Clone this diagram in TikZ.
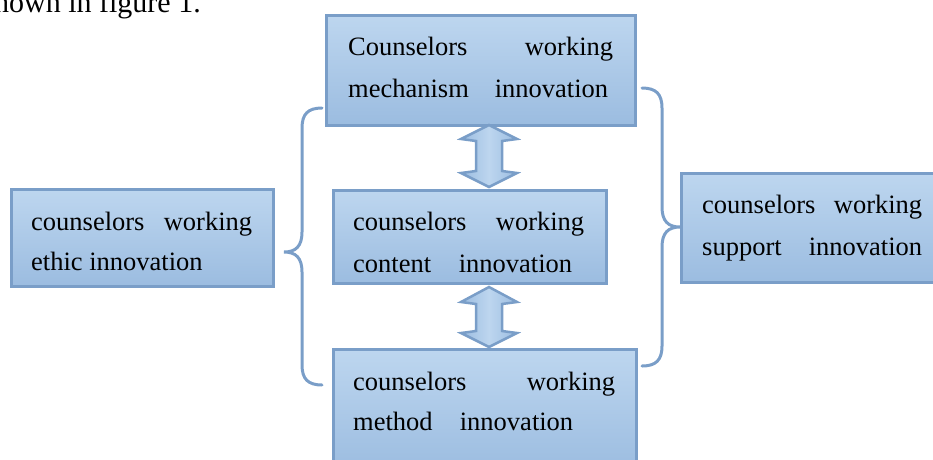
\documentclass[tikz,border=0pt]{standalone}
\usepackage{fontspec}
\setmainfont{Liberation Serif}
\definecolor{boxtop}{HTML}{BDD6EF}
\definecolor{boxbot}{HTML}{9BBCE0}
\definecolor{boxline}{HTML}{7A9EC8}
\tikzset{
  box/.style={draw=boxline, line width=3pt, top color=boxtop, bottom color=boxbot, inner sep=0pt},
  txt/.style={anchor=base west, inner sep=0pt, font=\fontsize{26.5}{30}\selectfont},
  brace/.style={draw=boxline, line width=3pt, line cap=round},
  dblarrow/.style={draw=boxline, line width=2.5pt, line join=miter, left color=boxbot, right color=boxbot, middle color=boxtop}
}
\begin{document}
\begin{tikzpicture}[x=1pt,y=-1pt]
\useasboundingbox (0,0) rectangle (933,459);
\clip (0,0) rectangle (933,459);
% partial line of running text
\node[anchor=base east, inner sep=0pt, font=\fontsize{30}{34}\selectfont] (caption) at (201,12.7) {shown in figure 1.};
% boxes
\node[box, minimum width=309pt, minimum height=110pt] (mech) at (481,70.5) {};
\node[box, minimum width=262pt, minimum height=97pt] (ethic) at (142.5,238) {};
\node[box, minimum width=273pt, minimum height=93pt] (content) at (470,237) {};
\node[box, minimum width=303pt, minimum height=124pt] (method) at (485,411.5) {};
\node[box, minimum width=267pt, minimum height=109pt] (support) at (815,228) {};
% texts
\node[txt] (t1a) at (348,55) {\makebox[265pt][s]{Counselors\hfill working}};
\node[txt] (t1b) at (348,97) {\makebox[260pt][s]{mechanism\hfill innovation}};
\node[txt] (t2a) at (31,230) {\makebox[221pt][s]{counselors\hfill working}};
\node[txt] (t2b) at (31,270) {ethic innovation};
\node[txt] (t3a) at (353,230) {\makebox[231pt][s]{counselors\hfill working}};
\node[txt] (t3b) at (353,272) {\makebox[219pt][s]{content\hfill innovation}};
\node[txt] (t4a) at (702,213) {\makebox[220pt][s]{counselors\hfill working}};
\node[txt] (t4b) at (702,255) {\makebox[220pt][s]{support\hfill innovation}};
\node[txt] (t5a) at (353,390) {\makebox[262pt][s]{counselors\hfill working}};
\node[txt] (t5b) at (353,430) {\makebox[220pt][s]{method\hfill innovation}};
% double arrows
\path[dblarrow] (489,125) -- (461,139) -- (476,141) -- (476,171) -- (461,173) -- (489,187) -- (517,173) -- (502,171) -- (502,141) -- (517,139) -- cycle;
\path[dblarrow] (489,287) -- (461,302) -- (476,304) -- (476,331) -- (461,333) -- (489,347) -- (517,333) -- (502,331) -- (502,304) -- (517,302) -- cycle;
% braces
\coordinate (lb1) at (322,108);
\coordinate (lbt) at (284,252);
\coordinate (lb2) at (322,385);
\draw[brace] (lb1) .. controls (308,108) and (302,114) .. (302,128) -- (302,232)
  .. controls (302,246) and (296,252) .. (lbt)
  .. controls (296,252) and (302,258) .. (302,272) -- (302,365)
  .. controls (302,379) and (308,385) .. (lb2);
\coordinate (rb1) at (642,88);
\coordinate (rbt) at (680,227);
\coordinate (rb2) at (642,366);
\draw[brace] (rb1) .. controls (656,88) and (662,94) .. (662,108) -- (662,207)
  .. controls (662,221) and (668,227) .. (rbt)
  .. controls (668,227) and (662,233) .. (662,247) -- (662,346)
  .. controls (662,360) and (656,366) .. (rb2);
\end{tikzpicture}
\end{document}
